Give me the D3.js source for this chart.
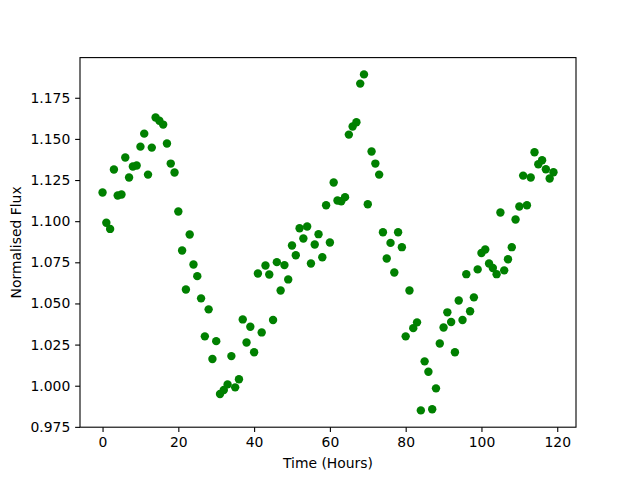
<!DOCTYPE html>
<html>
<head>
<meta charset="utf-8">
<script src="https://cdn.jsdelivr.net/npm/d3@7"></script>
<style>
  body { margin: 0; background: #fff; }
  svg { display: block; }
  text { font-family: "DejaVu Sans", sans-serif; }
</style>
</head>
<body>
<div id="chart"></div>
<script>
// hours since start, one reading per hour
const hours = d3.range(0, 120);

const flux = [
  1.1174, 1.0990, 1.0953, 1.1314, 1.1156, 1.1162, 1.1387, 1.1265, 1.1332, 1.1338,
  1.1453, 1.1532, 1.1283, 1.1447, 1.1630, 1.1610, 1.1587, 1.1472, 1.1350, 1.1296,
  1.1059, 1.0822, 1.0585, 1.0919, 1.0737, 1.0666, 1.0531, 1.0300, 1.0464, 1.0162,
  1.0271, 0.9950, 0.9974, 1.0008, 1.0180, 0.9990, 1.0039, 1.0403, 1.0263, 1.0358,
  1.0203, 1.0682, 1.0324, 1.0731, 1.0676, 1.0399, 1.0751, 1.0579, 1.0733, 1.0646,
  1.0852, 1.0793, 1.0957, 1.0895, 1.0968, 1.0743, 1.0858, 1.0921, 1.0781, 1.1097,
  1.0870, 1.1235, 1.1126, 1.1121, 1.1146, 1.1526, 1.1575, 1.1601, 1.1836, 1.1892,
  1.1103, 1.1423, 1.1350, 1.1283, 1.0933, 1.0773, 1.0868, 1.0688, 1.0933, 1.0842,
  1.0300, 1.0579, 1.0350, 1.0385, 0.9850, 1.0148, 1.0085, 0.9857, 0.9984, 1.0257,
  1.0354, 1.0446, 1.0387, 1.0203, 1.0518, 1.0399, 1.0678, 1.0453, 1.0537, 1.0707,
  1.0807, 1.0828, 1.0743, 1.0715, 1.0678, 1.1053, 1.0701, 1.0769, 1.0842, 1.1010,
  1.1089, 1.1277, 1.1097, 1.1265, 1.1419, 1.1346, 1.1370, 1.1316, 1.1259, 1.1297
];

const xTicks = [0, 20, 40, 60, 80, 100, 120];
const yTicks = [0.975, 1.000, 1.025, 1.050, 1.075, 1.100, 1.125, 1.150, 1.175];

const width = 640;
const height = 480;
const margin = {top: 57.6, right: 64, bottom: 52.8, left: 80};
const plotW = width - margin.left - margin.right;
const plotH = height - margin.top - margin.bottom;

const data = hours.map((h, i) => ({x: h, y: flux[i]}));

// matplotlib style 5% padding round the data
function padded(ext) {
  const d = (ext[1] - ext[0]) * 0.05;
  return [ext[0] - d, ext[1] + d];
}

const x = d3.scaleLinear()
  .domain(padded(d3.extent(hours)))
  .range([0, plotW]);

const y = d3.scaleLinear()
  .domain(padded(d3.extent(flux)))
  .range([plotH, 0]);

const svg = d3.select('#chart').append('svg')
  .attr('width', width)
  .attr('height', height);

const g = svg.append('g')
  .attr('transform', `translate(${margin.left},${margin.top})`);

g.selectAll('circle')
  .data(data)
  .enter()
  .append('circle')
  .attr('cx', d => x(d.x))
  .attr('cy', d => y(d.y))
  .attr('r', 4.2)
  .attr('fill', '#008000');

const tick = 4.86;

const xAxis = g.append('g')
  .attr('transform', `translate(0,${plotH})`)
  .call(d3.axisBottom(x).tickValues(xTicks).tickFormat(d3.format('d'))
    .tickSize(tick).tickPadding(tick).tickSizeOuter(0));

const yAxis = g.append('g')
  .call(d3.axisLeft(y).tickValues(yTicks).tickFormat(d3.format('.3f'))
    .tickSize(tick).tickPadding(tick).tickSizeOuter(0));

[xAxis, yAxis].forEach(a => {
  a.attr('font-family', '"DejaVu Sans", sans-serif').attr('font-size', 13.9);
  a.select('.domain').remove();
  a.selectAll('.tick line').attr('stroke', '#000').attr('stroke-width', 1.1);
  a.selectAll('.tick text').attr('fill', '#000');
});

// frame
g.append('rect')
  .attr('width', plotW)
  .attr('height', plotH)
  .attr('fill', 'none')
  .attr('stroke', '#000')
  .attr('stroke-width', 1.1);

svg.append('text')
  .attr('x', margin.left + plotW / 2)
  .attr('y', 468)
  .attr('text-anchor', 'middle')
  .attr('font-size', 13.9)
  .text('Time (Hours)');

svg.append('text')
  .attr('transform', `translate(21,${margin.top + plotH / 2}) rotate(-90)`)
  .attr('text-anchor', 'middle')
  .attr('font-size', 13.9)
  .text('Normalised Flux');
</script>
</body>
</html>
